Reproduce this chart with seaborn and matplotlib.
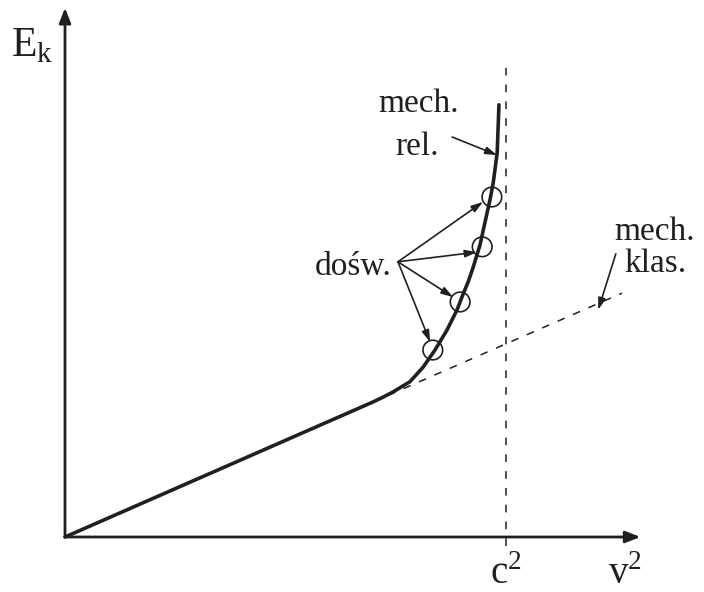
import numpy as np
import pandas as pd
import matplotlib
matplotlib.use("Agg")
import matplotlib.pyplot as plt
import seaborn as sns

sns.set_style("white")
plt.rcParams["font.family"] = ["Liberation Serif", "DejaVu Serif"]

# Kinetic energy vs v^2 (v^2 in units of c^2, energy in arbitrary units)
v2_rel = [0.0, 0.698, 0.721, 0.744, 0.782, 0.812, 0.839, 0.866, 0.889, 0.902,
          0.914, 0.925, 0.941, 0.952, 0.964, 0.971, 0.980, 0.984]
ek_rel = [0.0, 0.306, 0.317, 0.329, 0.352, 0.385, 0.424, 0.469, 0.515, 0.549,
          0.578, 0.610, 0.662, 0.712, 0.766, 0.803, 0.871, 0.980]
v2_klas = [0.698, 1.263]
ek_klas = [0.306, 0.553]
v2_exp = [0.834, 0.896, 0.946, 0.968]
ek_exp = [0.424, 0.533, 0.658, 0.771]
c2 = 1.0

tc = "#231f20"
fig = plt.figure(figsize=(7.04, 5.92), dpi=100)
ax = fig.add_axes([0, 0, 1, 1])
s = 441.0
ax.set_xlim(-65 / s, (704 - 65) / s)
ax.set_ylim(-(592 - 537) / s, 537 / s)
ax.axis("off")

rel = pd.DataFrame({"v2": v2_rel, "Ek": ek_rel})
klas = pd.DataFrame({"v2": v2_klas, "Ek": ek_klas})
sns.lineplot(data=rel, x="v2", y="Ek", sort=False, color=tc, lw=2.6, ax=ax)
sns.lineplot(data=klas, x="v2", y="Ek", sort=False, color=tc, lw=1.1,
             ax=ax, linestyle=(0, (5, 6)))
ax.plot([c2, c2], [-0.02, 1.07], color=tc, lw=1.1, linestyle=(0, (5, 6)))
sns.scatterplot(x=v2_exp, y=ek_exp, s=200, facecolor="none", edgecolor=tc,
                linewidth=1.2, ax=ax, zorder=5)

# axes with arrow heads
head = dict(arrowstyle="-|>,head_length=0.9,head_width=0.35", color=tc, lw=2.0,
            shrinkA=0, shrinkB=0)
ax.annotate("", xy=(0, 1.2), xytext=(0, 0), arrowprops=head)
ax.annotate("", xy=(1.305, 0), xytext=(0, 0), arrowprops=head)

ax.text(-0.075, 1.115, r"E$_\mathregular{k}$", fontsize=30, color=tc, ha="center", va="center")
ax.text(c2, -0.084, r"c$^\mathregular{2}$", fontsize=28, color=tc, ha="center", va="center")
ax.text(1.27, -0.084, r"v$^\mathregular{2}$", fontsize=28, color=tc, ha="center", va="center")
ax.text(0.803, 0.982, "mech.", fontsize=24, color=tc, ha="center", va="center")
ax.text(0.798, 0.884, "rel.", fontsize=24, color=tc, ha="center", va="center")
ax.text(1.338, 0.692, "mech.", fontsize=24, color=tc, ha="center", va="center")
ax.text(1.338, 0.619, "klas.", fontsize=24, color=tc, ha="center", va="center")
ax.text(0.653, 0.612, "dośw.", fontsize=24, color=tc, ha="center", va="center")

arr = dict(arrowstyle="-|>,head_length=0.7,head_width=0.22", color=tc, lw=1.2,
           shrinkA=0, shrinkB=0)
ax.annotate("", xy=(0.980, 0.866), xytext=(0.878, 0.907), arrowprops=arr)
src = (0.755, 0.624)
tips = [(0.828, 0.442), (0.880, 0.544), (0.934, 0.646), (0.948, 0.760)]
for t in tips:
    ax.annotate("", xy=t, xytext=src, arrowprops=arr)
ax.annotate("", xy=(1.209, 0.515), xytext=(1.249, 0.642), arrowprops=arr)

fig.savefig("out.png", dpi=100)
